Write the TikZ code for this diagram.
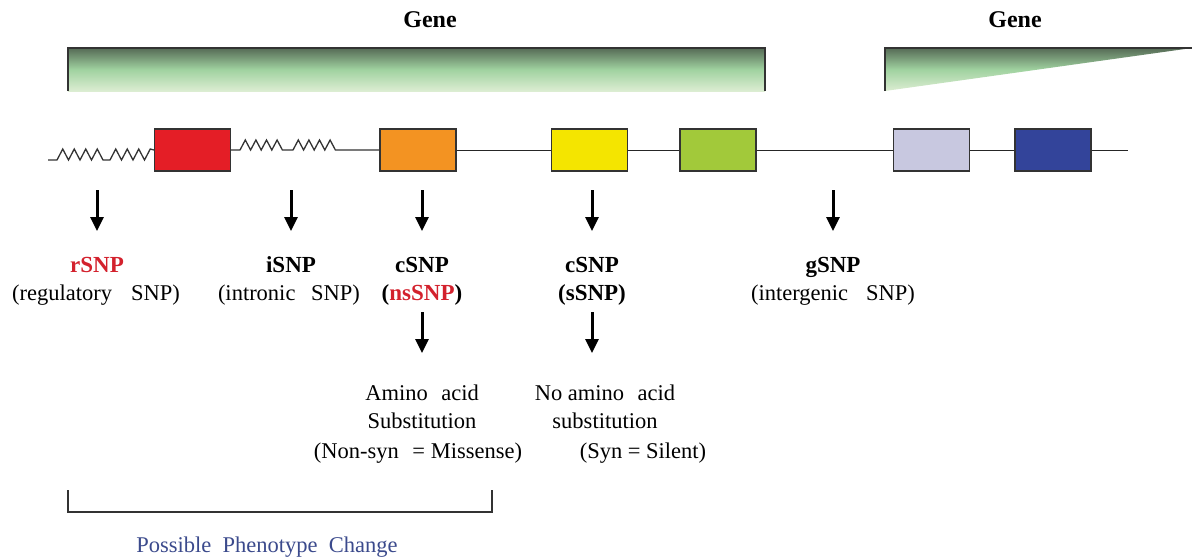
\documentclass[tikz,border=0pt]{standalone}
\usepackage{fontspec}
\setmainfont{Liberation Serif}
\usetikzlibrary{arrows.meta}
\definecolor{exred}{HTML}{E41E26}
\definecolor{exorange}{HTML}{F39322}
\definecolor{exyellow}{HTML}{F4E500}
\definecolor{exgreen}{HTML}{A2C93A}
\definecolor{exlav}{HTML}{C8C8E0}
\definecolor{exblue}{HTML}{33449A}
\definecolor{snpred}{HTML}{D3212D}
\definecolor{phenoblue}{HTML}{3B4A8C}
\definecolor{gtop}{HTML}{566B56}
\definecolor{gmid}{HTML}{A0D2A0}
\definecolor{gbot}{HTML}{DCEDD2}
\definecolor{edge}{HTML}{333333}
\pgfdeclareverticalshading{genegrad}{100bp}{color(0bp)=(gbot); color(25bp)=(gbot); color(50bp)=(gmid); color(75bp)=(gtop); color(100bp)=(gtop)}
\begin{document}
\begin{tikzpicture}[x=1pt,y=-1pt,
  exon/.style={draw=edge,line width=1.3pt,minimum width=76pt,minimum height=42pt,inner sep=0pt},
  wire/.style={draw=black!85,line width=1pt},
  zz/.style={draw=black!80,line width=1.3pt,line join=miter},
  down/.style={line width=3pt,-{Triangle[width=13pt,length=14pt]}},
  lbl/.style={font=\fontsize{22.5}{26}\selectfont,anchor=base,inner sep=0pt},
  blbl/.style={font=\fontsize{23}{26}\selectfont\bfseries,anchor=base,inner sep=0pt},
  genebar/.style={draw=edge,line width=1.3pt}]
\useasboundingbox (0,0) rectangle (1192,558);

% gene bars
\shade[shading=genegrad] (68,48) rectangle (765,91);
\draw[genebar] (68,91) -- (68,48) -- (765,48) -- (765,91);
\shade[shading=genegrad] (885,48) -- (1192,48) -- (885,91) -- cycle;
\draw[genebar] (885,91) -- (885,48) -- (1192,48);
\node[font=\fontsize{24}{28}\selectfont\bfseries,anchor=base,inner sep=0pt] (gene1) at (430,27) {Gene};
\node[font=\fontsize{24}{28}\selectfont\bfseries,anchor=base,inner sep=0pt] (gene2) at (1015,27) {Gene};

% exons
\node[exon,fill=exred]    (e1) at (192.5,150) {};
\node[exon,fill=exorange] (e2) at (418,150) {};
\node[exon,fill=exyellow] (e3) at (589.5,150) {};
\node[exon,fill=exgreen]  (e4) at (718,150) {};
\node[exon,fill=exlav]    (e5) at (931.5,150) {};
\node[exon,fill=exblue]   (e6) at (1053,150) {};

% left zigzag (regulatory region)
\coordinate (zs) at (48,160);
\draw[zz] (zs) -- (57,160)
  \foreach \i in {0,...,3} { -- ++(5.75,-11) -- ++(5.75,11) }
  -- (110,160)
  \foreach \i in {0,...,2} { -- ++(5.75,-11) -- ++(5.75,11) }
  -- ++(5.75,-11) -- (e1.west);
% intron zigzag
\draw[zz] (e1.east) -- (240,150)
  \foreach \i in {0,...,3} { -- ++(5.3,-10) -- ++(5.3,10) }
  -- (293,150)
  \foreach \i in {0,...,3} { -- ++(5.3,-10) -- ++(5.3,10) }
  -- (e2.west);
\draw[wire] (e2.east) -- (e3.west);
\draw[wire] (e3.east) -- (e4.west);
\draw[wire] (e4.east) -- (e5.west);
\draw[wire] (e5.east) -- (e6.west);
\coordinate (lend) at (1128,150);
\draw[wire] (e6.east) -- (lend);

% arrows
\foreach \n/\x in {a1/97,a2/291,a3/422,a4/592,a5/833}{
  \coordinate (\n s) at (\x,190);
  \coordinate (\n e) at (\x,231);
  \draw[down] (\n s) -- (\n e);
}
\foreach \n/\x in {b3/422,b4/592}{
  \coordinate (\n s) at (\x,312);
  \coordinate (\n e) at (\x,353);
  \draw[down] (\n s) -- (\n e);
}

% SNP labels
\node[blbl,text=snpred] (r1) at (97,272) {rSNP};
\node[lbl] (r2) at (96,300) {(regulatory\hspace{0.85em}SNP)};
\node[blbl] (i1) at (291,272) {iSNP};
\node[lbl] (i2) at (289,300) {(intronic\hspace{0.7em}SNP)};
\node[blbl] (c1) at (422,272) {cSNP};
\node[blbl] (c2) at (422,300) {(\textcolor{snpred}{nsSNP})};
\node[blbl] (s1) at (592,272) {cSNP};
\node[blbl] (s2) at (592,300) {(sSNP)};
\node[blbl] (g1) at (833,272) {gSNP};
\node[lbl] (g2) at (833,300) {(intergenic\hspace{0.8em}SNP)};

% consequences
\node[lbl] (m1) at (422,400) {Amino\hspace{0.6em}acid};
\node[lbl] (m2) at (422,428) {Substitution};
\node[lbl] (m3) at (418,458) {(Non-syn\hspace{0.6em}= Missense)};
\node[lbl] (n1) at (605,400) {No amino\hspace{0.6em}acid};
\node[lbl] (n2) at (605,428) {substitution};
\node[lbl] (n3) at (643,458) {(Syn = Silent)};

% bracket
\coordinate (bl) at (68,490);
\coordinate (br) at (492,490);
\draw[line width=1.3pt,draw=edge] (bl) -- (68,512) -- (492,512) -- (br);
\node[lbl,text=phenoblue] (ph) at (267,552) {Possible\hspace{0.5em}Phenotype\hspace{0.5em}Change};
\end{tikzpicture}
\end{document}
